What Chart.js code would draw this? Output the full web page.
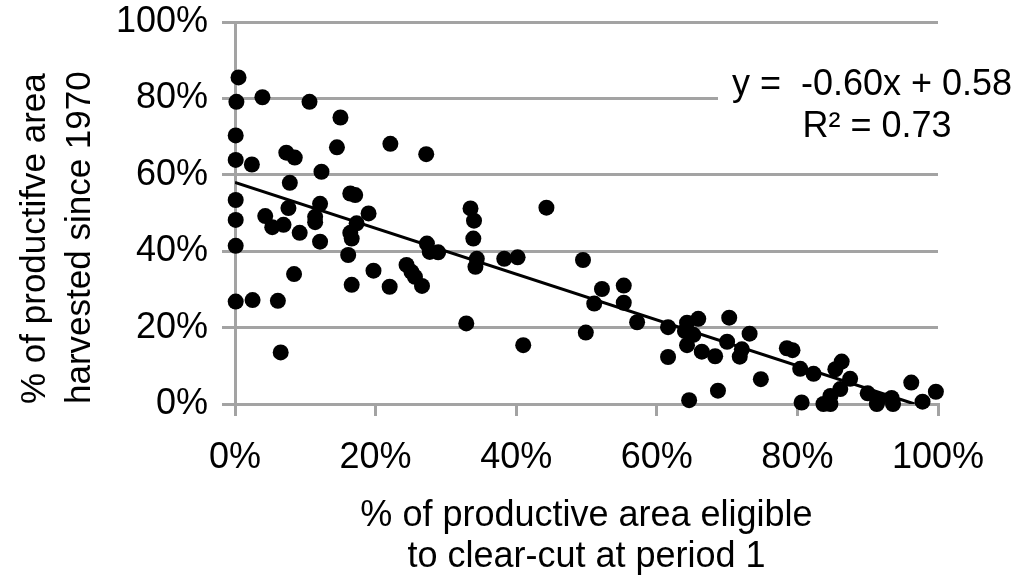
<!DOCTYPE html>
<html>
<head>
<meta charset="utf-8">
<title>Harvested vs eligible area</title>
<script src="https://cdn.jsdelivr.net/npm/chart.js@4/dist/chart.umd.min.js"></script>
<style>
  html, body { margin: 0; padding: 0; background: #fff; }
  canvas { display: block; }
</style>
</head>
<body>
<canvas id="chart" width="1023" height="577"></canvas>
<script>
// % of productive area eligible to clear-cut at period 1 (per stand unit)
const eligiblePct = [
  0.5, 0.2, 0.1, 0.1, 0.1, 0.1, 0.1, 0.1,
  3.9, 10.6, 15.0, 22.1, 7.3, 8.5, 14.5, 27.2,
  2.4, 12.3, 7.8, 16.4, 17.1, 7.6, 12.1, 19.0, 4.3, 5.3, 6.9, 11.4, 11.4, 17.3,
  9.2, 12.1, 16.4, 16.6, 16.1, 8.4, 19.7, 16.6, 22.0, 24.4, 25.1, 25.6, 26.6,
  2.5, 6.1, 6.5,
  27.3, 27.7, 28.9, 33.5, 34.0, 33.9, 34.4, 34.2, 44.3, 38.3, 40.2, 32.9, 41.0,
  49.5, 52.2, 55.3, 55.3, 51.1, 49.9, 57.2,
  61.6, 61.6, 64.3, 65.9, 64.0, 65.2, 64.3, 64.6, 66.4, 68.3, 68.7, 70.3, 70.0,
  73.2, 72.1, 71.8, 74.8,
  78.5, 79.3, 80.4, 82.3, 80.6, 86.3, 85.4, 87.5, 86.1, 84.7, 83.7, 84.7,
  90.0, 91.3, 91.5, 93.4, 93.6, 96.2, 97.8, 99.7
];

// % of productive area harvested since 1970 (same order)
const harvestedPct = [
  85.5, 79.1, 70.3, 63.9, 53.4, 48.2, 41.4, 26.8,
  80.3, 79.1, 75.0, 68.1, 65.8, 64.5, 67.2, 65.4,
  62.7, 60.8, 57.9, 55.1, 54.7, 51.3, 52.4, 49.9, 49.2, 46.3, 46.9, 49.0, 47.6, 47.3,
  44.8, 42.5, 44.8, 43.3, 39.0, 34.0, 34.9, 31.2, 30.7, 36.4, 34.6, 33.3, 30.9,
  27.2, 27.0, 13.5,
  42.0, 39.8, 39.7, 51.2, 48.0, 43.3, 38.0, 35.9, 51.4, 38.0, 38.4, 21.1, 15.4,
  37.7, 30.1, 31.0, 26.5, 26.3, 18.7, 21.4,
  20.1, 12.3, 21.3, 22.3, 19.1, 18.1, 15.4, 1.0, 13.7, 12.5, 3.5, 22.6, 16.3,
  18.4, 14.3, 12.4, 6.5,
  14.6, 14.1, 9.2, 7.9, 0.4, 11.1, 9.1, 6.6, 3.9, 2.1, 0.0, 0.0,
  2.8, 0.0, 1.1, 1.6, 0.0, 5.6, 0.6, 3.2
];

// Linear trend: y = slope * x + intercept, R²
const trendSlope = -0.60;
const trendIntercept = 0.58;
const trendR2 = 0.73;

const axisTicks = [0, 0.2, 0.4, 0.6, 0.8, 1.0];

const FONT = "'Liberation Sans', Arial, sans-serif";
const GRID = '#a3a3a3';

const points = eligiblePct.map((x, i) => ({ x: x / 100, y: harvestedPct[i] / 100 }));
const trendEnd = -trendIntercept / trendSlope;
const trendPoints = [
  { x: 0, y: trendIntercept },
  { x: trendEnd, y: trendSlope * trendEnd + trendIntercept }
];

const pct = v => Math.round(v * 100) + '%';

// Trendline equation box, drawn over the gridlines
const equationLabel = {
  id: 'equationLabel',
  afterDatasetsDraw(chart) {
    const { ctx, chartArea } = chart;
    const yScale = chart.scales.y;
    const boxLeft = chartArea.right - 220;
    const boxTop = yScale.getPixelForValue(0.89);
    const boxBottom = yScale.getPixelForValue(0.66);
    ctx.save();
    ctx.fillStyle = '#fff';
    ctx.fillRect(boxLeft, boxTop, chart.width - boxLeft, boxBottom - boxTop);
    ctx.fillStyle = '#000';
    ctx.font = '36px ' + FONT;
    ctx.textAlign = 'center';
    ctx.textBaseline = 'middle';
    const cx = chartArea.right - 66;
    const intercept = (trendIntercept < 0 ? '- ' : '+ ') + Math.abs(trendIntercept).toFixed(2);
    ctx.fillText('y =  ' + trendSlope.toFixed(2) + 'x ' + intercept, cx, yScale.getPixelForValue(0.835));
    ctx.fillText('R\u00B2 = ' + trendR2.toFixed(2), cx + 5, yScale.getPixelForValue(0.725));
    ctx.restore();
  }
};

new Chart(document.getElementById('chart'), {
  type: 'scatter',
  data: {
    datasets: [
      {
        label: 'Units',
        data: points,
        pointRadius: 8,
        pointHoverRadius: 8,
        pointBackgroundColor: '#000',
        pointBorderWidth: 0,
        clip: false,
        order: 2
      },
      {
        type: 'line',
        label: 'Linear trend',
        data: trendPoints,
        borderColor: '#000',
        borderWidth: 3,
        pointRadius: 0,
        fill: false,
        order: 1
      }
    ]
  },
  options: {
    responsive: false,
    animation: false,
    devicePixelRatio: 1,
    layout: { padding: { top: 22, right: 85, left: 0, bottom: 0 } },
    plugins: {
      legend: { display: false },
      tooltip: { enabled: false }
    },
    scales: {
      x: {
        type: 'linear',
        min: 0,
        max: 1,
        afterBuildTicks: s => { s.ticks = axisTicks.map(v => ({ value: v })); },
        afterFit: s => { s.height = 173; },
        ticks: {
          callback: pct,
          color: '#000',
          font: { family: FONT, size: 36 },
          padding: 20,
          maxRotation: 0
        },
        grid: {
          drawOnChartArea: false,
          drawTicks: true,
          tickLength: 12,
          color: GRID,
          lineWidth: 3
        },
        border: { color: GRID, width: 3 },
        title: {
          display: true,
          text: ['% of productive area eligible', 'to clear-cut at period 1'],
          color: '#000',
          font: { family: FONT, size: 36, lineHeight: 1.12 },
          padding: { top: 14, bottom: 0 }
        }
      },
      y: {
        type: 'linear',
        min: 0,
        max: 1,
        afterBuildTicks: s => { s.ticks = axisTicks.map(v => ({ value: v })); },
        afterFit: s => { s.width = 235; s.paddingTop = 0; },
        ticks: {
          callback: pct,
          color: '#000',
          font: { family: FONT, size: 36 },
          padding: 14
        },
        grid: {
          drawTicks: true,
          tickLength: 13,
          color: GRID,
          lineWidth: 3
        },
        border: { color: GRID, width: 3 },
        title: {
          display: true,
          align: 'start',
          text: ['% of productifve area', 'harvested since 1970'],
          color: '#000',
          font: { family: FONT, size: 35, lineHeight: 1.28 },
          padding: { top: 13, bottom: 0 }
        }
      }
    }
  },
  plugins: [equationLabel]
});
</script>
</body>
</html>
